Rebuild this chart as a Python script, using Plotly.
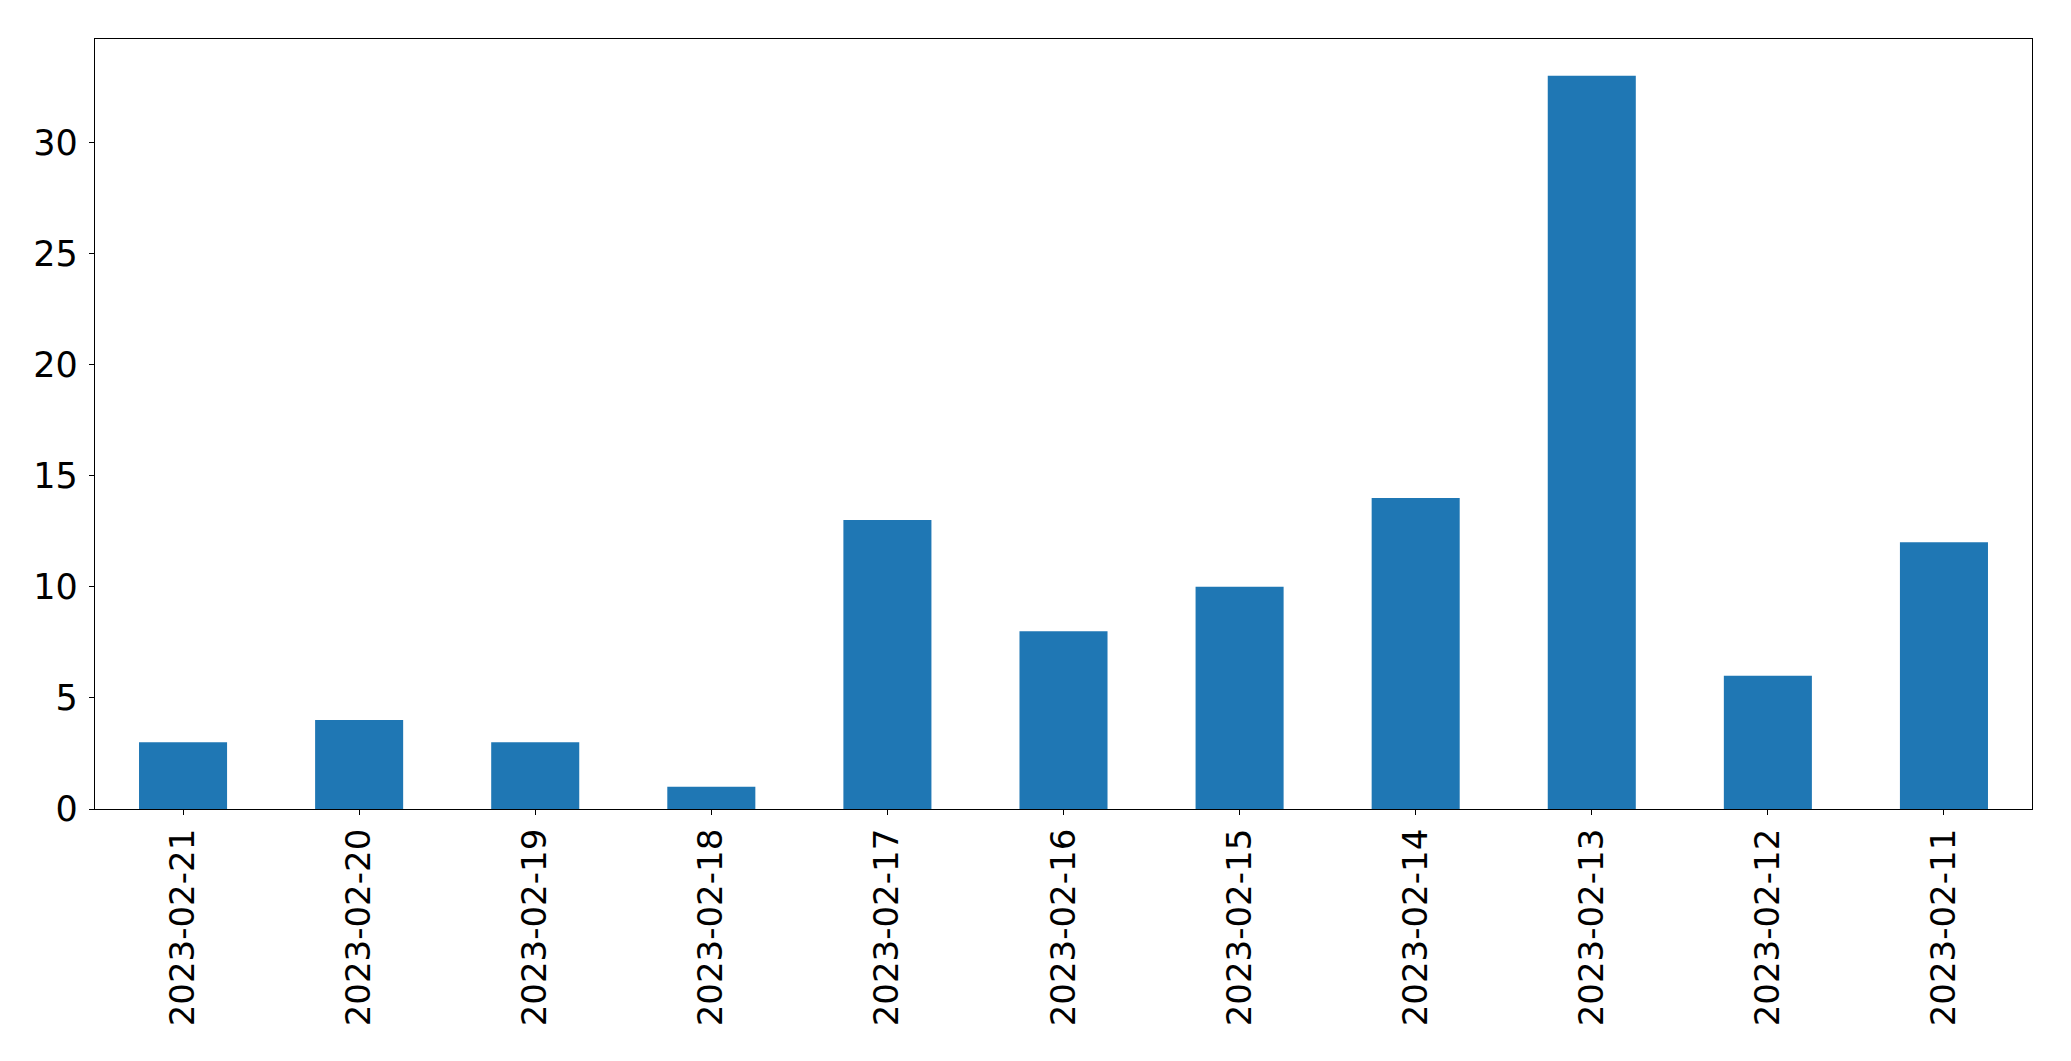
import plotly.graph_objects as go

dates = ["2023-02-21", "2023-02-20", "2023-02-19", "2023-02-18", "2023-02-17", "2023-02-16",
         "2023-02-15", "2023-02-14", "2023-02-13", "2023-02-12", "2023-02-11"]
counts = [3, 4, 3, 1, 13, 8, 10, 14, 33, 6, 12]
y_ticks = [0, 5, 10, 15, 20, 25, 30]

fig = go.Figure(go.Bar(x=dates, y=counts, width=0.5, marker=dict(color="#1f77b4", line=dict(width=0))))

font = dict(family="DejaVu Sans", size=35, color="black")
xfont = dict(family="DejaVu Sans", size=34, color="black")
# page body has an 8px default margin, so the figure is offset by 8px
fig.update_layout(
    width=2063, height=1053,
    margin=dict(l=87, r=39, t=31, b=252, autoexpand=False),
    plot_bgcolor="white", paper_bgcolor="white",
    showlegend=False, font=font,
)
fig.update_xaxes(type="category", range=[-0.5, len(dates) - 0.5], tickangle=-90,
                 showline=True, linecolor="black", linewidth=1.3, mirror=True,
                 ticks="outside", ticklen=5, tickcolor="black", showgrid=False,
                 tickfont=xfont, ticklabelstandoff=0, automargin=False)
fig.update_yaxes(range=[0, 34.65], tickvals=y_ticks,
                 showline=True, linecolor="black", linewidth=1.3, mirror=True,
                 ticks="outside", ticklen=5, tickcolor="black", showgrid=False,
                 zeroline=False, tickfont=font, ticklabelstandoff=4, automargin=False)
fig.write_html("out.html")
